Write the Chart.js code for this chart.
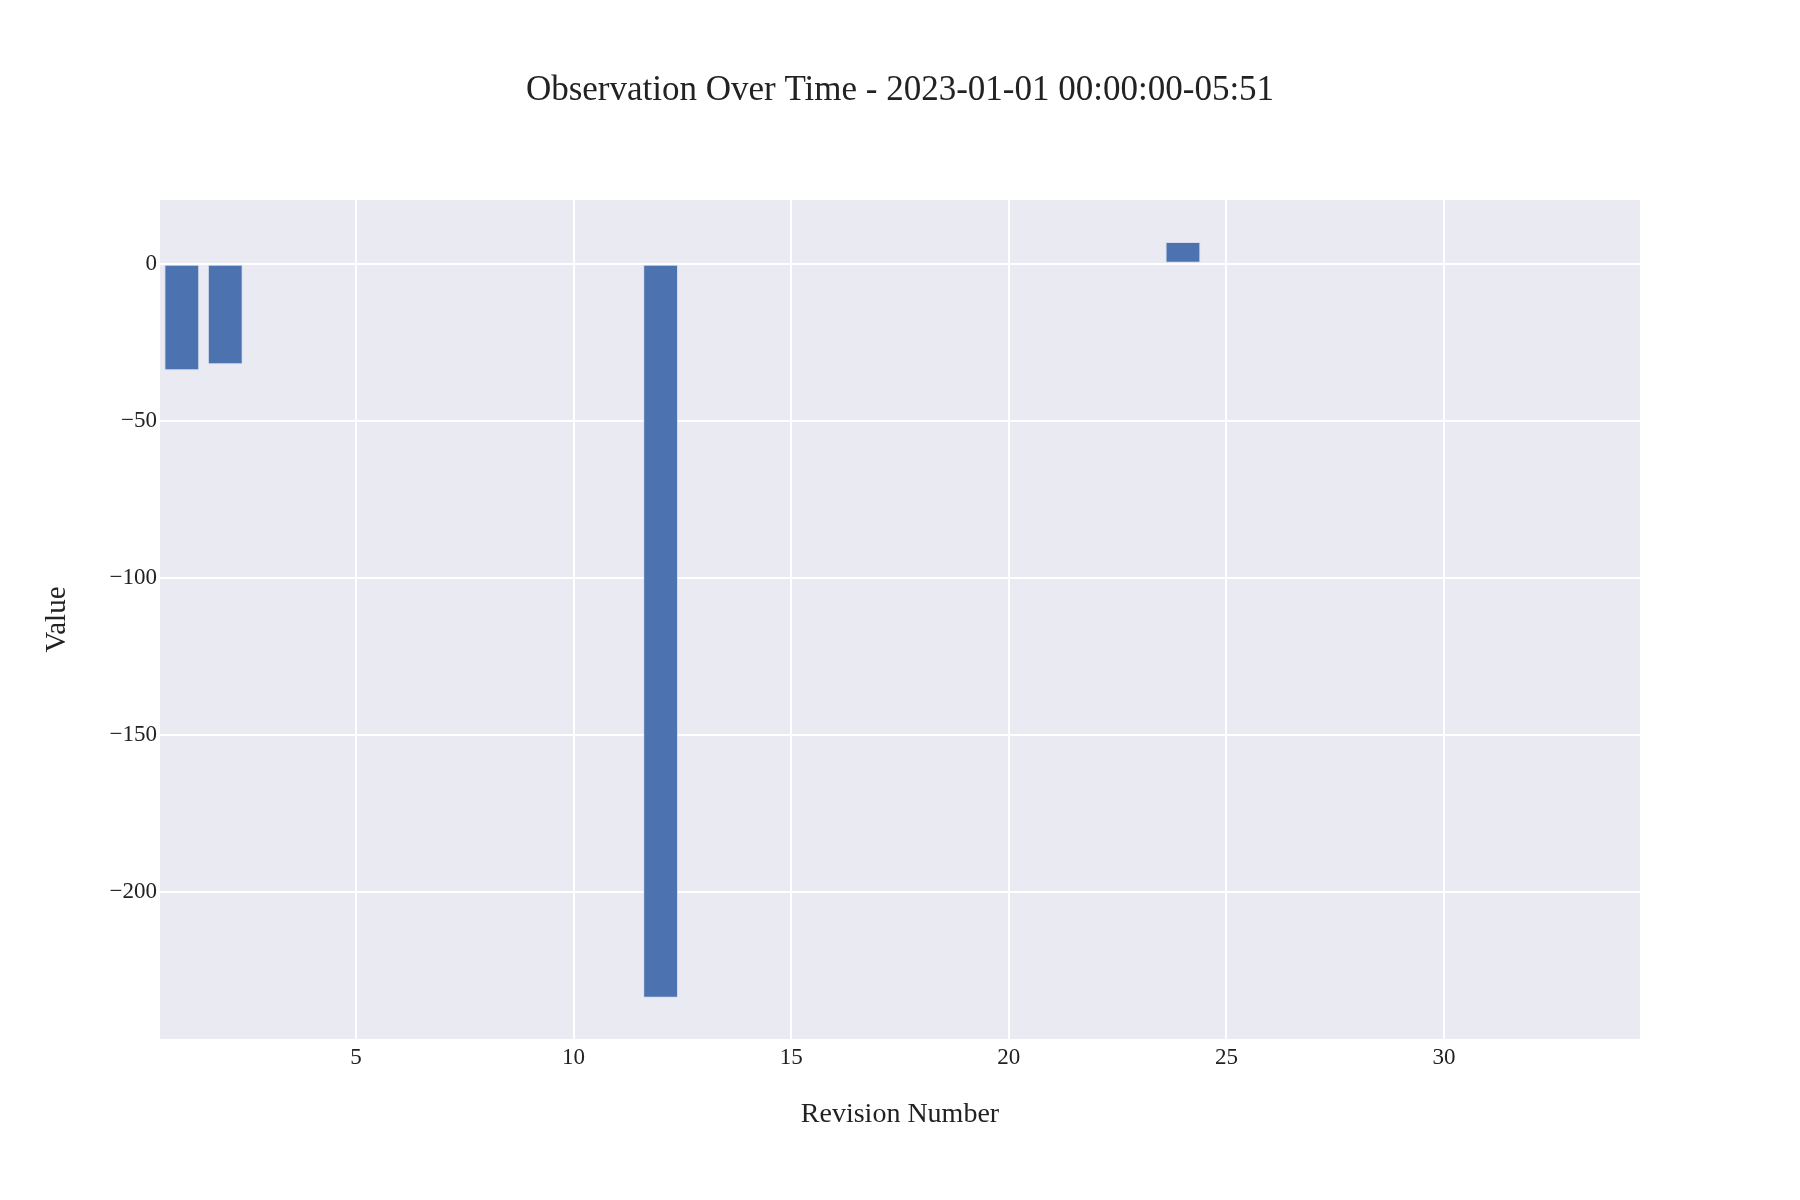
<!DOCTYPE html>
<html>
<head>
<meta charset="utf-8">
<script src="https://cdn.jsdelivr.net/npm/chart.js@4/dist/chart.umd.min.js"></script>
<style>
html,body{margin:0;padding:0;background:#fff;}
#wrap{width:1800px;height:1200px;}
</style>
</head>
<body>
<div id="wrap"><canvas id="c" width="1800" height="1200"></canvas></div>
<script>
const titleText = "Observation Over Time - 2023-01-01 00:00:00-05:51";
const xTitle = "Revision Number";
const yTitle = "Value";
const revisions = [1, 2, 12, 24];
const values = [-33.9, -32.0, -233.8, 6.9];
const xTicks = [5, 10, 15, 20, 25, 30];
const yTicks = [0, -50, -100, -150, -200];
const xRange = [0.5, 34.5];
const yRange = [-246.9, 20.3];

const FONT = "'Liberation Serif', 'DejaVu Serif', serif";

const bgPlugin = {
  id: 'plotBg',
  beforeDraw(chart) {
    const {ctx, chartArea: a} = chart;
    ctx.save();
    ctx.fillStyle = '#EAEAF2';
    ctx.fillRect(a.left, a.top, a.right - a.left, a.bottom - a.top);
    ctx.restore();
  }
};

new Chart(document.getElementById('c'), {
  type: 'bar',
  data: {
    datasets: [{
      data: revisions.map((r, i) => ({x: r, y: values[i]})),
      backgroundColor: '#4C72B0',
      borderColor: 'rgba(200,210,235,0.6)',
      borderWidth: 1,
      borderSkipped: false,
      barPercentage: 0.8,
      categoryPercentage: 1.0,
      yAxisID: 'y'
    }]
  },
  options: {
    responsive: false,
    devicePixelRatio: 1,
    animation: false,
    layout: {padding: 0},
    plugins: {
      legend: {display: false},
      tooltip: {enabled: false},
      title: {
        display: true,
        text: titleText,
        color: '#222',
        font: {family: FONT, size: 35, weight: 'normal', lineHeight: 1.2},
        padding: {top: 70, bottom: 88}
      }
    },
    scales: {
      x: {
        type: 'linear',
        min: xRange[0],
        max: xRange[1],
        offset: false,
        afterBuildTicks(axis) { axis.ticks = xTicks.map(v => ({value: v})); },
        afterFit(axis) { axis.height = 161; },
        grid: {color: '#ffffff', lineWidth: 2, drawTicks: false, offset: false},
        border: {display: false},
        ticks: {
          color: '#222',
          font: {family: FONT, size: 23, lineHeight: 1.2},
          padding: 5,
          maxRotation: 0,
          autoSkip: false,
          callback: v => String(v)
        },
        title: {
          display: true,
          text: xTitle,
          color: '#222',
          font: {family: FONT, size: 28, lineHeight: 1.2},
          padding: {top: 0, bottom: 69}
        }
      },
      y: {
        type: 'linear',
        position: 'left',
        min: yRange[0],
        max: yRange[1],
        afterBuildTicks(axis) { axis.ticks = yTicks.map(v => ({value: v})); },
        afterFit(axis) { axis.width = 160; },
        grid: {color: '#ffffff', lineWidth: 2, drawTicks: false},
        border: {display: false},
        ticks: {
          color: '#222',
          font: {family: FONT, size: 23, lineHeight: 1.2},
          padding: 3,
          autoSkip: false,
          callback: v => (v < 0 ? '\u2212' + Math.abs(v) : String(v))
        },
        title: {
          display: true,
          text: yTitle,
          color: '#222',
          font: {family: FONT, size: 29, lineHeight: 1.2},
          padding: {top: 40, bottom: 0}
        }
      },
      yRight: {
        type: 'linear',
        position: 'right',
        display: true,
        afterFit(axis) { axis.width = 160; },
        grid: {display: false, drawTicks: false},
        border: {display: false},
        ticks: {display: false}
      }
    }
  },
  plugins: [bgPlugin]
});
</script>
</body>
</html>
